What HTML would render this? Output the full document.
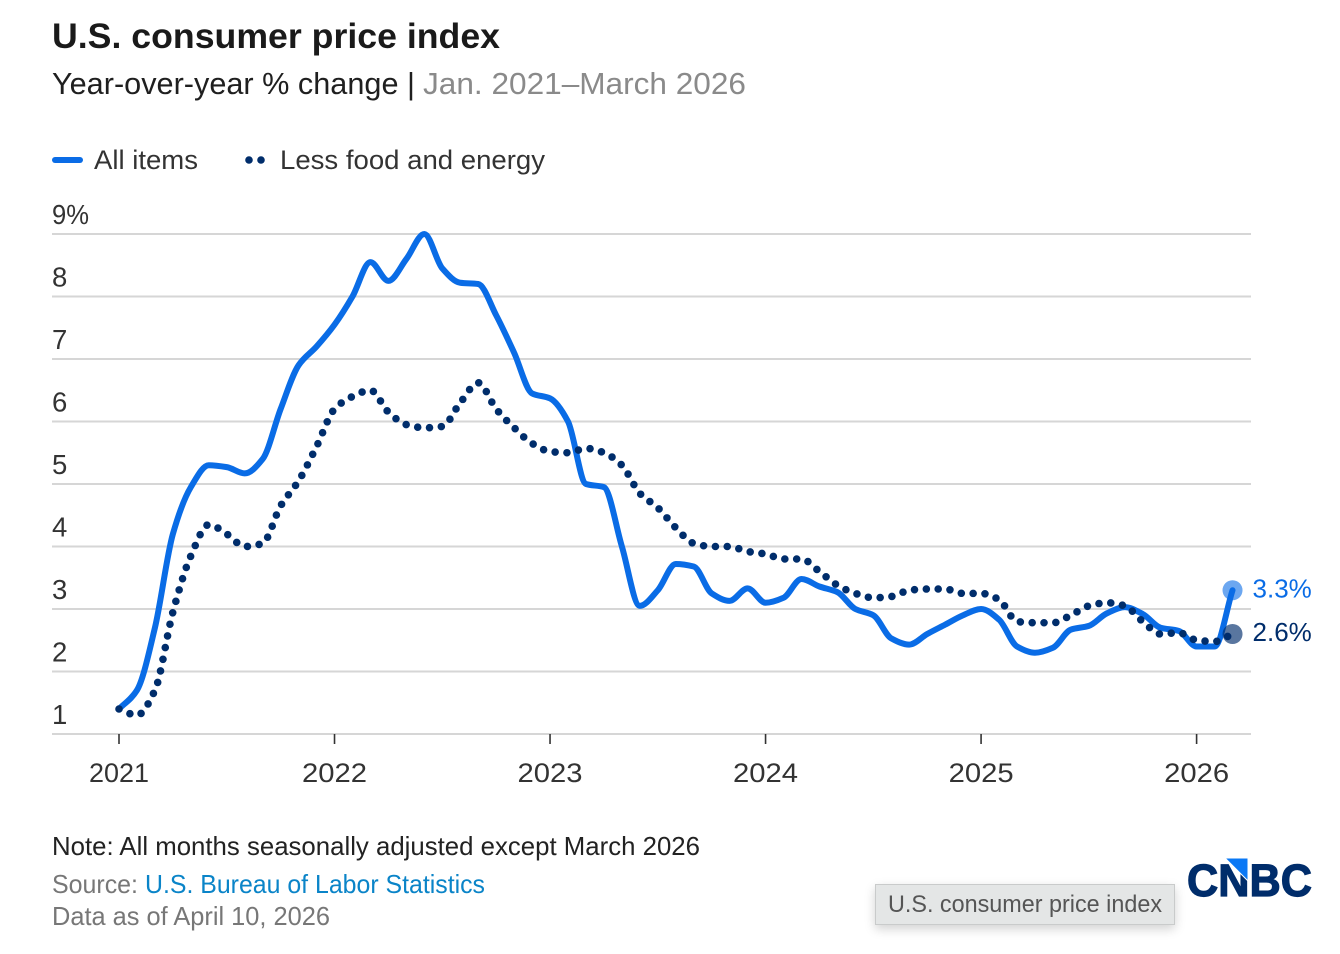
<!DOCTYPE html>
<html lang="en">
<head>
<meta charset="utf-8">
<title>U.S. consumer price index</title>
<style>
html,body{margin:0;padding:0;background:#fff;}
svg{display:block;font-family:"Liberation Sans",sans-serif;}
#tooltip{position:absolute;left:875px;top:884px;width:298px;height:39px;background:#e4e6e6;border:1px solid #c9cbcb;box-shadow:0 4px 10px rgba(0,0,0,.18);}
</style>
</head>
<body>
<div style="position:relative;width:1340px;height:954px;overflow:hidden">
<svg id="chart" width="1340" height="954" viewBox="0 0 1340 954" xmlns="http://www.w3.org/2000/svg">
  <text x="52" y="48" font-size="35" font-weight="700" fill="#1a1a1a" textLength="448" lengthAdjust="spacingAndGlyphs">U.S. consumer price index</text>
  <text x="52" y="94" font-size="31" fill="#1f1f1f" textLength="363" lengthAdjust="spacingAndGlyphs">Year-over-year % change |</text>
  <text x="423" y="94" font-size="31" fill="#8a8a8a" textLength="323" lengthAdjust="spacingAndGlyphs">Jan. 2021–March 2026</text>

  <line x1="55" y1="160" x2="80" y2="160" stroke="#0a6ce6" stroke-width="6" stroke-linecap="round"/>
  <text x="94" y="169" font-size="27" fill="#333" textLength="104" lengthAdjust="spacingAndGlyphs">All items</text>
  <circle cx="249" cy="160" r="3.8" fill="#002d6b"/>
  <circle cx="261" cy="160" r="3.8" fill="#002d6b"/>
  <text x="280" y="169" font-size="27" fill="#333" textLength="265" lengthAdjust="spacingAndGlyphs">Less food and energy</text>

  <g id="grid"></g>
  <g id="ylabels"></g>
  <g id="xaxis"></g>
  <g id="series"></g>

  <text x="52" y="855" font-size="26" fill="#222" textLength="648" lengthAdjust="spacingAndGlyphs">Note: All months seasonally adjusted except March 2026</text>
  <text x="52" y="893" font-size="26" fill="#777" textLength="86" lengthAdjust="spacingAndGlyphs">Source:</text>
  <text x="145" y="893" font-size="26" fill="#0a84c8" textLength="340" lengthAdjust="spacingAndGlyphs">U.S. Bureau of Labor Statistics</text>
  <text x="52" y="925" font-size="26" fill="#777" textLength="278" lengthAdjust="spacingAndGlyphs">Data as of April 10, 2026</text>

  <text x="1187" y="896" font-size="45" font-weight="700" fill="#002d6b" stroke="#002d6b" stroke-width="1.2" textLength="125" lengthAdjust="spacingAndGlyphs">CNBC</text>
  <polygon points="1225,858 1248,858 1248,881" fill="#0a78f5" stroke="#fff" stroke-width="1"/>
</svg>
<div id="tooltip"></div>
<svg width="1340" height="954" viewBox="0 0 1340 954" style="position:absolute;left:0;top:0;pointer-events:none">
  <text x="888" y="912" font-size="24" fill="#555" textLength="274" lengthAdjust="spacingAndGlyphs">U.S. consumer price index</text>
</svg>
</div>
<script>
const yearLabels = ["2021","2022","2023","2024","2025","2026"];
const yTickValues = [1,2,3,4,5,6,7,8,9];
const yTickLabels = ["1","2","3","4","5","6","7","8","9%"];
const allItems = [
  1.4,1.7,2.7,4.2,4.95,5.3,5.27,5.17,5.4,6.2,6.9,7.2,
  7.55,8.0,8.55,8.25,8.6,9.0,8.45,8.22,8.2,7.7,7.1,6.45,
  6.37,6.0,5.0,4.95,4.0,3.05,3.3,3.72,3.68,3.25,3.13,3.33,
  3.1,3.18,3.48,3.36,3.27,3.0,2.9,2.53,2.43,2.6,2.75,2.9,
  3.0,2.83,2.4,2.3,2.38,2.67,2.73,2.93,3.03,2.92,2.7,2.65,
  2.4,2.4,3.3
];
const lessFoodEnergy = [
  1.4,1.3,1.7,2.95,3.85,4.35,4.2,4.0,4.05,4.65,5.05,5.6,
  6.2,6.4,6.5,6.15,5.95,5.9,5.92,6.3,6.62,6.2,5.9,5.65,
  5.52,5.5,5.57,5.5,5.3,4.85,4.62,4.3,4.05,4.0,4.0,3.92,
  3.88,3.8,3.8,3.6,3.38,3.25,3.18,3.2,3.3,3.32,3.32,3.25,
  3.25,3.15,2.8,2.78,2.78,2.9,3.05,3.1,3.05,2.8,2.6,2.62,
  2.5,2.48,2.6
];

const NS = "http://www.w3.org/2000/svg";
function xScale(monthIndex){ return 119 + monthIndex * 17.96; }
function yScale(value){ return 734 - (value - 1) * 62.5; }
function make(tag, attrs, parent){
  const el = document.createElementNS(NS, tag);
  for (const k in attrs) el.setAttribute(k, attrs[k]);
  parent.appendChild(el);
  return el;
}
/* monotone cubic interpolation path */
function linePath(values){
  const pts = values.map((v,i)=>[xScale(i), yScale(v)]);
  const n = pts.length, m = new Array(n), s = [];
  for (let i=0;i<n-1;i++) s.push((pts[i+1][1]-pts[i][1])/(pts[i+1][0]-pts[i][0]));
  m[0]=s[0]; m[n-1]=s[n-2];
  for (let i=1;i<n-1;i++){
    if (s[i-1]*s[i]<=0) m[i]=0;
    else m[i]=2*s[i-1]*s[i]/(s[i-1]+s[i]);
  }
  let d = "M"+pts[0][0].toFixed(2)+","+pts[0][1].toFixed(2);
  for (let i=0;i<n-1;i++){
    const h=(pts[i+1][0]-pts[i][0])/3;
    d+="C"+(pts[i][0]+h).toFixed(2)+","+(pts[i][1]+m[i]*h).toFixed(2)+" "+
       (pts[i+1][0]-h).toFixed(2)+","+(pts[i+1][1]-m[i+1]*h).toFixed(2)+" "+
       pts[i+1][0].toFixed(2)+","+pts[i+1][1].toFixed(2);
  }
  return d;
}

const grid = document.getElementById("grid");
const ylabels = document.getElementById("ylabels");
yTickValues.forEach((v,i)=>{
  const ln = make("line",{x1:52,x2:1251,y1:yScale(v),y2:yScale(v),stroke:"#d6d6d6","stroke-width":2},grid);
  
  
  const t = make("text",{x:52,y:yScale(v)-10,"font-size":27.5,fill:"#333"},ylabels);
  t.textContent = yTickLabels[i];
  if (yTickLabels[i].length > 1) {
    t.setAttribute("textLength", 37);
    t.setAttribute("lengthAdjust", "spacingAndGlyphs");
  }
  
  
});

const xaxis = document.getElementById("xaxis");
yearLabels.forEach((lab,i)=>{
  const px = xScale(i*12);
  const tk = make("line",{x1:px,x2:px,y1:734,y2:744,stroke:"#333","stroke-width":1.6},xaxis);
  
  
  const ones = lab.split("1").length - 1;
  const w = 65 - 5 * ones;
  const t = make("text",{x:px - w/2,y:782,"font-size":27,fill:"#333",textLength:w,lengthAdjust:"spacingAndGlyphs"},xaxis);
  t.textContent = lab;
  
  
});

const series = document.getElementById("series");
const pathAll = make("path",{d:linePath(allItems),fill:"none",stroke:"#0a6ce6","stroke-width":6,"stroke-linejoin":"round","stroke-linecap":"round"},series);


const pathCore = make("path",{d:linePath(lessFoodEnergy),fill:"none",stroke:"#002d6b","stroke-width":7.6,"stroke-linecap":"round","stroke-dasharray":"0 11.85"},series);



const lastAll = allItems[allItems.length-1];
const lastCore = lessFoodEnergy[lessFoodEnergy.length-1];
const endX = xScale(allItems.length-1);
const dotAll = make("circle",{cx:endX,cy:yScale(lastAll),r:10,fill:"#0a6ce6","fill-opacity":.6},series);


const dotCore = make("circle",{cx:endX,cy:yScale(lastCore),r:10,fill:"#002d6b","fill-opacity":.65},series);


const endAll = make("text",{x:endX+20,y:yScale(lastAll)+7,"font-size":26,fill:"#0a6ce6"},series);
endAll.textContent = lastAll.toFixed(1)+"%";


const endCore = make("text",{x:endX+20,y:yScale(lastCore)+7,"font-size":26,fill:"#002d6b"},series);
endCore.textContent = lastCore.toFixed(1)+"%";


</script>
</body>
</html>
